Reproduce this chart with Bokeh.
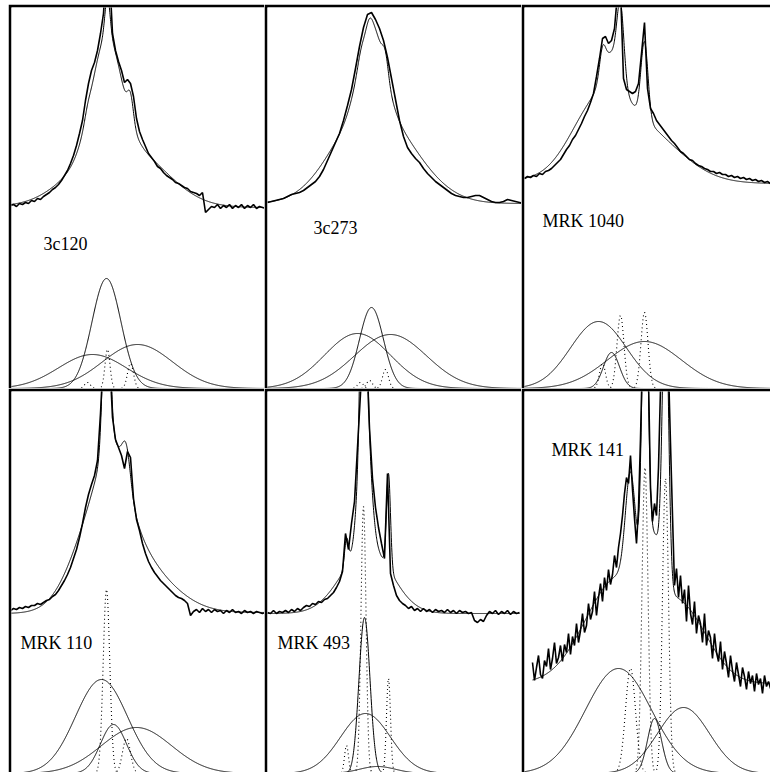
import numpy as np
from bokeh.plotting import figure
from bokeh.layouts import gridplot
from bokeh.core.properties import value
from bokeh.embed import file_html
from bokeh.resources import INLINE

# ---------------- data (panel-local units) ----------------
names = ["3c120", "3c273", "MRK 1040", "MRK 110", "MRK 493", "MRK 141"]

# observed spectra: first sample position, sample spacing, flux values
start_3c120, step_3c120 = 1, 3
flux_3c120 = [183,184,182,185,184,186,185,188,187,190,189,192,194,196,199,201,204,208,213,218,
              225,233,243,255,268,288,305,318,326,338,355,375,420,415,355,338,327,318,306,309,
              305,292,270,257,249,242,235,231,227,222,220,216,213,211,209,206,205,203,201,200,
              197,196,195,193,196,176,179,182,181,184,180,183,181,184,180,183,181,184,180,183,
              181,184,180,182,181,180]

start_3c273, step_3c273 = 2, 4
flux_3c273 = [186,187,188,189,190,192,194,195,196,198,201,204,207,212,219,228,237,246,255,268,
              283,299,320,342,361,374,376,369,360,348,331,310,289,268,252,241,235,230,226,220,
              215,211,207,204,201,198,195,193,192,191,191,192,193,193,191,189,187,186,186,187,
              189,188,187,186,185]

start_mrk1040, step_mrk1040 = 2, 3
flux_mrk1040 = [210,212,211,213,212,215,214,217,218,220,223,226,229,234,239,243,249,253,259,265,
                272,278,286,295,312,330,350,352,345,348,360,395,400,310,299,297,295,297,305,335,
                366,300,280,275,268,264,260,256,252,248,245,241,237,235,232,229,228,225,223,222,
                220,219,217,217,215,216,214,214,212,213,211,212,210,211,209,210,208,209,207,208,
                206,207,205]

start_mrk110, step_mrk110 = 1, 3
flux_mrk110 = [163,165,164,166,165,167,166,168,168,170,169,171,173,174,177,179,183,188,193,199,
               206,215,224,236,250,266,279,289,298,313,360,420,440,420,356,334,326,318,305,322,
               316,275,254,243,230,220,212,206,201,197,193,190,187,184,181,178,176,175,173,170,
               158,162,164,161,165,162,164,161,164,162,163,160,163,161,164,161,162,160,163,161,
               162,160,162,161,160,161]

start_mrk493, step_mrk493 = 2, 3
flux_mrk493 = [161,160,163,160,162,161,163,161,164,162,165,163,166,168,167,170,169,172,171,174,
               175,178,181,186,192,202,240,224,250,272,326,380,430,420,345,295,266,246,230,215,
               300,200,188,178,173,170,168,165,167,163,165,162,165,162,164,161,164,162,163,161,
               164,161,163,160,163,161,162,160,161,153,151,154,152,158,162,160,163,159,162,160,
               163,159,162,160,161]

start_mrk141, step_mrk141 = 10, 2
flux_mrk141 = [111,93,106,118,99,95,113,107,125,104,115,131,110,116,128,112,129,121,140,119,
               137,128,150,131,143,160,141,148,170,154,162,182,158,176,190,172,196,183,204,189,
               199,218,206,226,240,258,280,296,290,318,284,255,230,265,335,420,430,425,395,285,
               252,270,258,306,385,430,440,430,405,330,258,188,205,176,198,170,184,152,188,160,
               149,172,140,158,150,131,160,128,143,136,115,140,121,112,132,104,122,110,96,118,
               103,92,111,99,87,106,97,84,102,90,98,82,100,89,95,80,98,87,92,85]

# continuum level (left, right) under each fit
cont_3c120 = [182, 181]
cont_3c273 = [185, 185]
cont_mrk1040 = [208, 205]
cont_mrk110 = [160, 161]
cont_mrk493 = [160, 160]
cont_mrk141 = [90, 90]

# broad gaussian components (solid): centre, sigma, peak
broad_c_3c120, broad_s_3c120, broad_h_3c120 = [83, 97, 128], [34, 14.5, 35], [34, 110, 44]
broad_c_3c273, broad_s_3c273, broad_h_3c273 = [92, 106, 125], [33, 12, 36], [55, 81, 54]
broad_c_mrk1040, broad_s_mrk1040, broad_h_mrk1040 = [76, 89, 122], [28, 8, 37], [67, 36, 47]
broad_c_mrk110, broad_s_mrk110, broad_h_mrk110 = [92, 104, 127], [26, 13, 35], [94, 49, 46]
broad_c_mrk493, broad_s_mrk493, broad_h_mrk493 = [99, 100, 112], [5.5, 25, 18], [156, 60, 7]
broad_c_mrk141, broad_s_mrk141, broad_h_mrk141 = [96, 161, 132], [33, 26, 7], [105, 66, 55]

# narrow gaussian components (dotted): centre, sigma, peak
narrow_c_3c120, narrow_s_3c120, narrow_h_3c120 = [78, 98, 121], [3, 2.5, 3], [6, 39, 25]
narrow_c_3c273, narrow_s_3c273, narrow_h_3c273 = [95, 104, 120], [3, 3, 3], [6, 8, 19]
narrow_c_mrk1040, narrow_s_mrk1040, narrow_h_mrk1040 = [80, 98, 122], [3, 3.5, 3.5], [25, 73, 76]
narrow_c_mrk110, narrow_s_mrk110, narrow_h_mrk110 = [97, 117], [3.3, 4], [184, 35]
narrow_c_mrk493, narrow_s_mrk493, narrow_h_mrk493 = [81, 98, 123], [2, 2.5, 2], [28, 267, 95]
narrow_c_mrk141, narrow_s_mrk141, narrow_h_mrk141 = [108, 122.5, 143], [5, 3, 3], [105, 306, 295]

# ---------------- layout / styling ----------------
col_w = [256, 257, 249]
col_x = [(2, 255), (2, 256), (2, 248)]
row_h = [384, 384]
row_y = [(0, 381), (1, 382)]
label_pos = [(34, 145), (48, 161), (20, 168), (11, 131), (12, 131), (29, 324)]

panels = [
    (flux_3c120, start_3c120, step_3c120, cont_3c120,
     (broad_c_3c120, broad_s_3c120, broad_h_3c120), (narrow_c_3c120, narrow_s_3c120, narrow_h_3c120)),
    (flux_3c273, start_3c273, step_3c273, cont_3c273,
     (broad_c_3c273, broad_s_3c273, broad_h_3c273), (narrow_c_3c273, narrow_s_3c273, narrow_h_3c273)),
    (flux_mrk1040, start_mrk1040, step_mrk1040, cont_mrk1040,
     (broad_c_mrk1040, broad_s_mrk1040, broad_h_mrk1040), (narrow_c_mrk1040, narrow_s_mrk1040, narrow_h_mrk1040)),
    (flux_mrk110, start_mrk110, step_mrk110, cont_mrk110,
     (broad_c_mrk110, broad_s_mrk110, broad_h_mrk110), (narrow_c_mrk110, narrow_s_mrk110, narrow_h_mrk110)),
    (flux_mrk493, start_mrk493, step_mrk493, cont_mrk493,
     (broad_c_mrk493, broad_s_mrk493, broad_h_mrk493), (narrow_c_mrk493, narrow_s_mrk493, narrow_h_mrk493)),
    (flux_mrk141, start_mrk141, step_mrk141, cont_mrk141,
     (broad_c_mrk141, broad_s_mrk141, broad_h_mrk141), (narrow_c_mrk141, narrow_s_mrk141, narrow_h_mrk141)),
]


def profile(x, c, s, h):
    return h * np.exp(-0.5 * ((x - c) / s) ** 2)


figs = []
for i, (flux, x0, dx, cont, broad, narrow) in enumerate(panels):
    row, col = divmod(i, 3)
    xr, yr = col_x[col], row_y[row]
    p = figure(width=col_w[col], height=row_h[row], x_range=xr, y_range=yr,
               output_backend="svg", toolbar_location=None,
               x_axis_location=None, y_axis_location=None,
               min_border_left=3, min_border_top=3, min_border_right=0, min_border_bottom=0,
               border_fill_color="black", background_fill_color="white",
               outline_line_color=None)
    p.grid.visible = False

    xs = x0 + dx * np.arange(len(flux))
    xf = np.linspace(xr[0] - 2, xr[1] + 2, 1200)

    # components
    for c, s, h in zip(*broad):
        p.line(xf, profile(xf, c, s, h), line_color="black", line_width=1)
    for c, s, h in zip(*narrow):
        p.line(xf, profile(xf, c, s, h), line_color="black", line_width=1.1, line_dash="1 3")

    # model fit = continuum + all components, over the spectrum extent
    xm = np.linspace(xs[0], xs[-1], 1200)
    fit = cont[0] + (cont[1] - cont[0]) * (xm - xs[0]) / (xs[-1] - xs[0])
    for c, s, h in list(zip(*broad)) + list(zip(*narrow)):
        fit = fit + profile(xm, c, s, h)
    p.line(xm, fit, line_color="black", line_width=1)

    # observed spectrum
    p.line(xs, flux, line_color="black", line_width=1.6)

    lx, ly = label_pos[i]
    p.text(x=[lx], y=[ly], text=[names[i]], text_font=value("Liberation Serif"),
           text_font_size="18px", text_color="black", text_baseline="alphabetic",
           text_align="left")
    figs.append(p)

grid = gridplot([figs[0:3], figs[3:6]], toolbar_location=None)
grid.styles = {"margin-left": "8px", "margin-top": "4px"}

open("out.html", "w").write(file_html(grid, INLINE))
